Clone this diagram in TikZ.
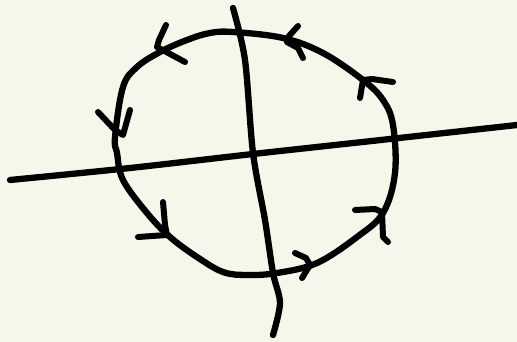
\documentclass[tikz,border=0pt]{standalone}
\usepackage{tikz}
\definecolor{paper}{HTML}{F7F6EA}
\tikzset{ink/.style={draw=black, line width=6.3pt, line cap=round, line join=round},
       chevron/.style={ink, line width=6pt}}

\begin{document}
\begin{tikzpicture}[x=1pt, y=-1pt]
\fill [paper] (0,0) rectangle (517,342);
\useasboundingbox (0,0) rectangle (517,342);
% axes
\draw [ink] plot [smooth] coordinates {(10,180) (130,168) (253,154) (390,139) (517,125)};
\draw [ink] plot [smooth] coordinates {(233,8) (245,60) (253,153) (265,220) (273,273) (280,303) (273,335)};
% loop
\draw [ink] plot [smooth cycle, tension=0.6] coordinates {
(233,32) (283,38) (323,53) (363,80) (383,100) (393,125) (395,173) (383,213)
(357,237) (317,263) (277,273) (247,275) (223,272) (197,257) (170,237) (147,213)
(123,180) (117,153) (115,137) (123,87) (137,67) (160,52) (187,40) (210,33)};
% arrows on the loop
\draw [chevron] (166,25) -- (159,40) -- (157,47) -- (185,62);
\draw [chevron] (298,26) -- (289,36) -- (287,42) -- (298,48) -- (303,58);
\draw [chevron] (393,82) -- (372,79) -- (363,80) -- (360,98);
\draw [chevron] (98,112) -- (115,130) -- (123,135) -- (130,110);
\draw [chevron] (163,202) -- (165,225) -- (167,235) -- (138,237);
\draw [chevron] (295,253) -- (306,258) -- (310,265) -- (302,278);
\draw [chevron] (355,210) -- (375,209) -- (382,212) -- (383,237) -- (388,242);
\end{tikzpicture}
\end{document}
